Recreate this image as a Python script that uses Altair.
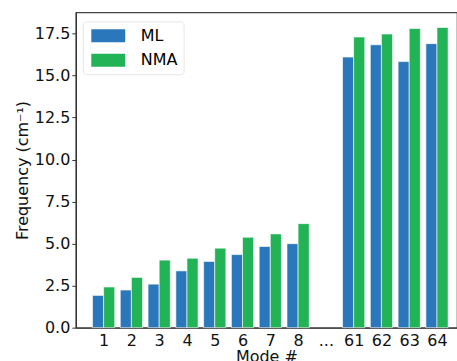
import altair as alt
import pandas as pd

modes = ["1", "2", "3", "4", "5", "6", "7", "8", "61", "62", "63", "64"]
positions = [1, 2, 3, 4, 5, 6, 7, 8, 10, 11, 12, 13]
ml = [1.92, 2.24, 2.59, 3.38, 3.94, 4.35, 4.83, 5.00, 16.1, 16.83, 15.83, 16.9]
nma = [2.42, 2.99, 4.02, 4.13, 4.73, 5.38, 5.58, 6.19, 17.29, 17.47, 17.8, 17.86]
tick_labels = ["1", "2", "3", "4", "5", "6", "7", "8", "...", "61", "62", "63", "64"]
series = ["ML", "NMA"]
colors = ["#2a78bb", "#21b355"]

rows = []
for m, p, a, b in zip(modes, positions, ml, nma):
    rows.append({"mode": m, "pos": p, "series": "ML", "value": a})
    rows.append({"mode": m, "pos": p, "series": "NMA", "value": b})
df = pd.DataFrame(rows)

label_map = "{" + ",".join(f"'{i+1}':'{t}'" for i, t in enumerate(tick_labels)) + "}"

font = "DejaVu Sans"

chart = alt.Chart(df).transform_calculate(
    x0="datum.series == 'ML' ? datum.pos - 0.4 : datum.pos",
    x1="datum.series == 'ML' ? datum.pos : datum.pos + 0.4",
).mark_bar(stroke="white", strokeWidth=0.6).encode(
    x=alt.X("x0:Q", scale=alt.Scale(domain=[0, 13.72], nice=False, zero=False),
            axis=alt.Axis(values=list(range(1, 14)), labelExpr=f"{label_map}[datum.value + '']",
                          tickSize=0, labelPadding=5, grid=False, title="Mode #",
                          titlePadding=0, labelFlush=False)),
    x2="x1:Q",
    y=alt.Y("value:Q", scale=alt.Scale(domain=[0, 18.76], nice=False),
            axis=alt.Axis(values=[0, 2.5, 5, 7.5, 10, 12.5, 15, 17.5], format=".1f",
                          tickSize=4, labelPadding=2, grid=False,
                          title="Frequency (cm⁻¹)", titlePadding=4)),
    y2=alt.datum(0),
    color=alt.Color("series:N", scale=alt.Scale(domain=series, range=colors),
                    legend=alt.Legend(title=None, orient="none", legendX=7, legendY=9,
                                      symbolType="M-2,-0.76H2V0.76H-2Z", symbolSize=289,
                                      symbolOffset=11, symbolStrokeWidth=0,
                                      labelFontSize=16, labelFont=font,
                                      labelOffset=24, padding=6, rowPadding=7.5,
                                      strokeColor="#e6e6e6", fillColor="white",
                                      cornerRadius=3)),
).properties(
    width=382, height=316,
    autosize=alt.AutoSizeParams(type="none"),
    padding={"left": 76, "top": 12, "right": 0, "bottom": 33},
).configure_view(
    stroke="#444", strokeWidth=1.2
).configure_axis(
    labelFont=font, titleFont=font, labelFontSize=16, titleFontSize=16,
    titleFontWeight="normal", labelColor="#111", titleColor="#111",
    domainColor="#333", domainWidth=1.2, tickColor="#333", tickWidth=1,
)

chart.save("out.html", embed_options={"renderer": "svg", "actions": False})
